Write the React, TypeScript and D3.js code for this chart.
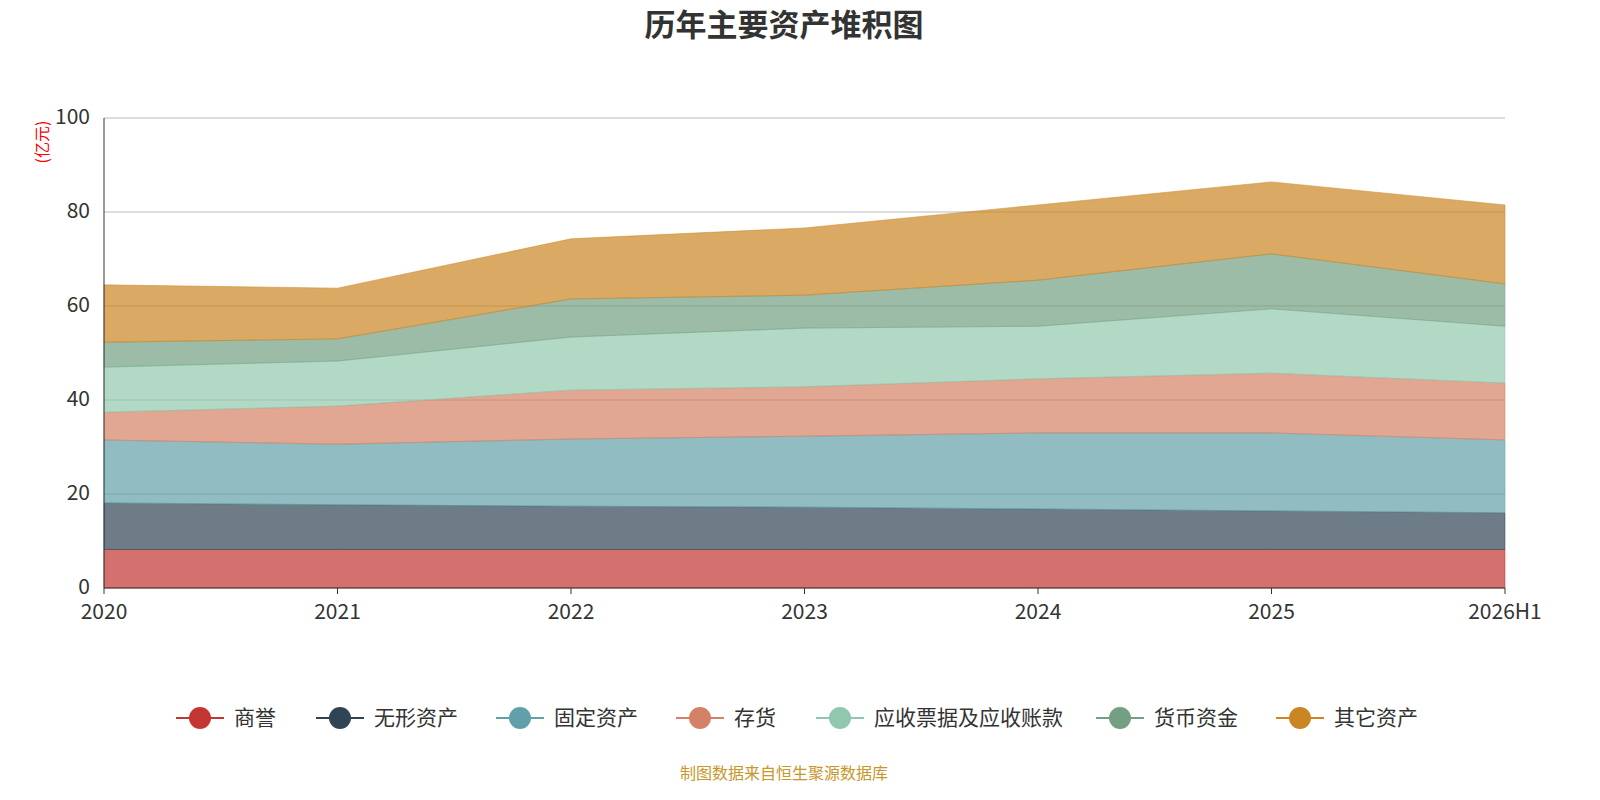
import React from "react";
import * as d3 from "d3";

const years = ["2020", "2021", "2022", "2023", "2024", "2025", "2026H1"];
const seriesNames = ["商誉", "无形资产", "固定资产", "存货", "应收票据及应收账款", "货币资金", "其它资产"];
const colors = ["#c23531", "#2f4554", "#61a0a8", "#d48265", "#91c7ae", "#749f83", "#ca8622"];
const goodwill = [8.2, 8.2, 8.2, 8.2, 8.2, 8.2, 8.2];
const intangible = [9.9, 9.5, 9.2, 9.0, 8.6, 8.2, 7.8];
const fixedAssets = [13.4, 12.9, 14.3, 15.1, 16.2, 16.6, 15.5];
const inventory = [5.9, 8.1, 10.4, 10.5, 11.5, 12.7, 12.1];
const receivables = [9.6, 9.6, 11.3, 12.5, 11.2, 13.7, 12.1];
const cash = [5.3, 4.7, 8.1, 7.0, 9.8, 11.7, 9.0];
const others = [12.2, 10.8, 12.8, 14.3, 16.0, 15.3, 16.8];
const yTicks = [0, 20, 40, 60, 80, 100];

export default function App() {
  const all = [goodwill, intangible, fixedAssets, inventory, receivables, cash, others];
  const x = d3.scalePoint<string>().domain(years).range([104, 1505]);
  const y = d3.scaleLinear().domain([0, 100]).range([588, 118]);
  const rows = years.map((yr, i) => {
    const r: any = { year: yr };
    seriesNames.forEach((n, k) => (r[n] = all[k][i]));
    return r;
  });
  const stacked = d3.stack<any>().keys(seriesNames)(rows);
  const area = d3.area<any>().x((d) => x(d.data.year)!).y0((d) => y(d[0])).y1((d) => y(d[1]));
  const font = "'Noto Sans CJK SC', 'Noto Sans', sans-serif";
  let lx = 176;
  const legend = seriesNames.map((n, k) => {
    const item = { n, k, x: lx };
    lx += 48 + 10 + n.length * 20 + 42;
    return item;
  });
  return (
    <svg width={1600} height={800} style={{ display: "block", position: "absolute", left: 0, top: 0 }} fontFamily={font}>
      <text x={784} y={36} textAnchor="middle" fontSize={31} fontWeight="bold" fill="#333">历年主要资产堆积图</text>
      {yTicks.map((t) => (
        <g key={t}>
          {t > 0 && <line x1={104} x2={1505} y1={y(t)} y2={y(t)} stroke="#bbb" />}
          <text x={90} y={y(t) + 6} textAnchor="end" fontSize={21} fill="#333">{t}</text>
        </g>
      ))}
      <text transform="translate(48,142) rotate(-90)" textAnchor="middle" fontSize={16} fill="red">(亿元)</text>
      {stacked.map((s, k) => (
        <path key={k} d={area(s as any)!} fill={colors[k]} fillOpacity={0.7} stroke={colors[k]} strokeOpacity={0.5} />
      ))}
      <line x1={104} x2={104} y1={118} y2={588} stroke="#333" />
      <line x1={104} x2={1505} y1={588} y2={588} stroke="#333" />
      {years.map((yr) => (
        <g key={yr}>
          <line x1={x(yr)} x2={x(yr)} y1={588} y2={594} stroke="#333" />
          <text x={x(yr)} y={619} textAnchor="middle" fontSize={21} fill="#333">{yr}</text>
        </g>
      ))}
      {legend.map(({ n, k, x: ix }) => (
        <g key={n} transform={`translate(${ix},718)`}>
          <line x1={0} x2={48} y1={0} y2={0} stroke={colors[k]} strokeWidth={2} />
          <circle cx={24} cy={0} r={11} fill={colors[k]} />
          <text x={58} y={7} fontSize={21} fill="#333">{n}</text>
        </g>
      ))}
      <text x={784} y={779} textAnchor="middle" fontSize={16} fill="#c8962a">制图数据来自恒生聚源数据库</text>
    </svg>
  );
}
